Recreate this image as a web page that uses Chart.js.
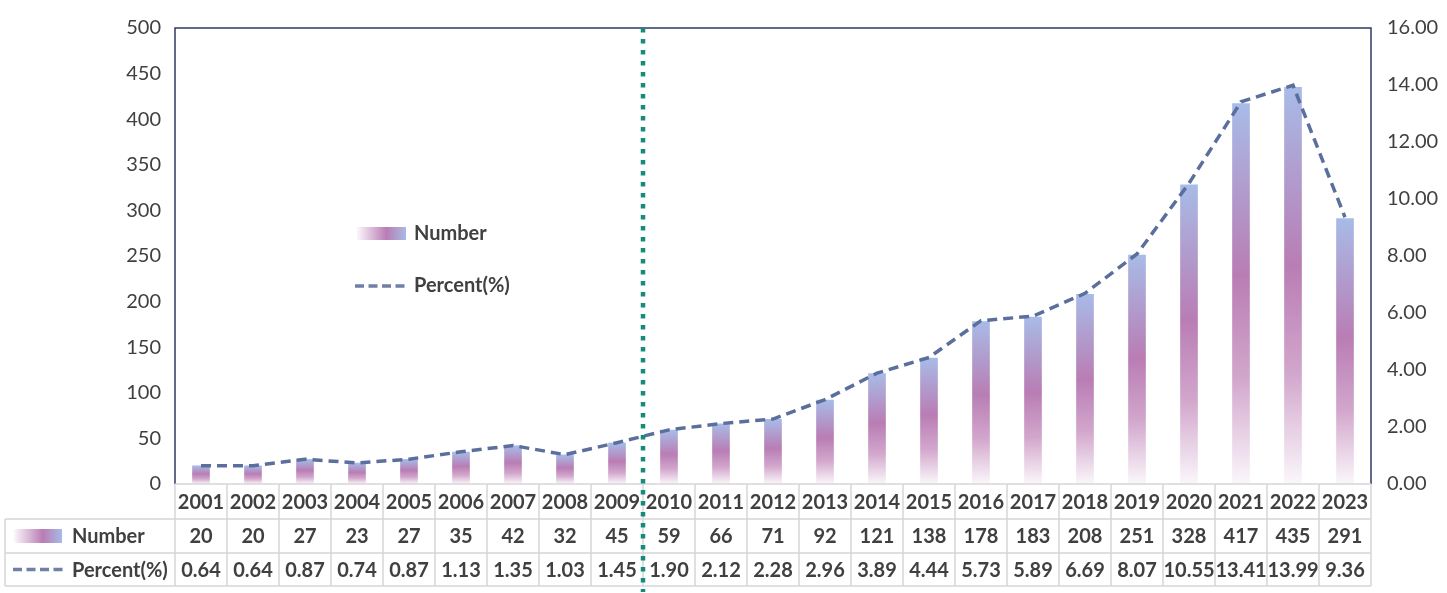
<!DOCTYPE html>
<html lang="en">

<head>
    <meta charset="UTF-8">
    <title>Number and Percent by year</title>
    <script src="https://cdn.jsdelivr.net/npm/chart.js"></script>
    <style>
        body {
            margin: 0;
            background: #fff;
        }
    </style>
</head>

<body>
    <canvas id="chart" width="1447" height="593"></canvas>
    <script>
        const years = ['2001', '2002', '2003', '2004', '2005', '2006', '2007', '2008', '2009', '2010', '2011', '2012',
            '2013', '2014', '2015', '2016', '2017', '2018', '2019', '2020', '2021', '2022', '2023'];
        const numbers = [20, 20, 27, 23, 27, 35, 42, 32, 45, 59, 66, 71, 92, 121, 138, 178, 183, 208, 251, 328, 417, 435, 291];
        const percents = [0.64, 0.64, 0.87, 0.74, 0.87, 1.13, 1.35, 1.03, 1.45, 1.90, 2.12, 2.28, 2.96, 3.89, 4.44, 5.73,
            5.89, 6.69, 8.07, 10.55, 13.41, 13.99, 9.36];
        const leftTicks = [0, 50, 100, 150, 200, 250, 300, 350, 400, 450, 500];
        const rightTicks = [0, 2, 4, 6, 8, 10, 12, 14, 16];
        const splitAfter = '2009'; // dotted marker goes after this year

        const FONT = 'Lato, "Open Sans", sans-serif';
        const TEXT = '#404040';
        const NAVY = '#2e3b63';
        const LINE = '#5b6f9e';

        function barGradient(context) {
            const chart = context.chart;
            if (!chart.chartArea) return '#b97db4';
            const y = chart.scales.y;
            const top = y.getPixelForValue(context.raw);
            const bottom = y.getPixelForValue(0);
            const g = chart.ctx.createLinearGradient(0, top, 0, bottom);
            g.addColorStop(0, '#a8bbe7');
            g.addColorStop(0.45, '#b97db4');
            g.addColorStop(0.72, '#d2a6cc');
            g.addColorStop(1, '#fbf7fb');
            return g;
        }

        const extras = {
            id: 'extras',
            afterDraw(chart) {
                const ctx = chart.ctx;
                const area = chart.chartArea;
                const xs = chart.scales.x;
                const colW = (area.right - area.left) / years.length;
                ctx.save();

                // frame: left, top, right
                ctx.strokeStyle = NAVY;
                ctx.lineWidth = 1.5;
                ctx.beginPath();
                ctx.moveTo(area.left, area.bottom);
                ctx.lineTo(area.left, area.top);
                ctx.lineTo(area.right, area.top);
                ctx.lineTo(area.right, area.bottom);
                ctx.stroke();

                // data table
                const r0 = area.bottom, r1 = r0 + 35, r2 = r1 + 34, r3 = r2 + 33;
                const tableLeft = 5;
                ctx.strokeStyle = '#d6d6d6';
                ctx.lineWidth = 1.5;
                ctx.beginPath();
                ctx.moveTo(area.left, r0); ctx.lineTo(area.right, r0);
                [r1, r2, r3].forEach(y => { ctx.moveTo(tableLeft, y); ctx.lineTo(area.right, y); });
                ctx.moveTo(tableLeft, r1); ctx.lineTo(tableLeft, r3);
                for (let i = 0; i <= years.length; i++) {
                    const x = area.left + i * colW;
                    ctx.moveTo(x, r0); ctx.lineTo(x, r3);
                }
                ctx.stroke();

                ctx.fillStyle = TEXT;
                ctx.font = 'bold 20px ' + FONT;
                ctx.textAlign = 'center';
                ctx.textBaseline = 'middle';
                years.forEach((yr, i) => {
                    const x = xs.getPixelForValue(i);
                    ctx.fillText(yr, x, (r0 + r1) / 2 + 1);
                    ctx.fillText(String(numbers[i]), x, (r1 + r2) / 2 + 1);
                    ctx.fillText(percents[i].toFixed(2), x, (r2 + r3) / 2 + 1);
                });

                // keys in the table
                drawBarKey(ctx, 14, (r1 + r2) / 2 - 7, 48, 14);
                drawLineKey(ctx, 13, 63, (r2 + r3) / 2);
                ctx.fillStyle = TEXT;
                ctx.textAlign = 'left';
                ctx.fillText('Number', 72, (r1 + r2) / 2 + 1);
                ctx.fillText('Percent(%)', 72, (r2 + r3) / 2 + 1);

                // legend inside plot
                drawBarKey(ctx, 357, 227, 49, 13);
                drawLineKey(ctx, 355, 407, 286);
                ctx.fillStyle = TEXT;
                ctx.fillText('Number', 414, 234);
                ctx.fillText('Percent(%)', 414, 286);

                // dotted split marker
                const idx = years.indexOf(splitAfter);
                const sx = (xs.getPixelForValue(idx) + xs.getPixelForValue(idx + 1)) / 2;
                ctx.strokeStyle = '#178a7a';
                ctx.lineWidth = 4.5;
                ctx.setLineDash([4.5, 6.5]);
                ctx.beginPath();
                ctx.moveTo(sx, area.top);
                ctx.lineTo(sx, 592);
                ctx.stroke();

                ctx.restore();
            }
        };

        function drawBarKey(ctx, x, y, w, h) {
            const g = ctx.createLinearGradient(x, 0, x + w, 0);
            g.addColorStop(0, '#fbf7fb');
            g.addColorStop(0.6, '#b97db4');
            g.addColorStop(1, '#a8bbe7');
            ctx.fillStyle = g;
            ctx.fillRect(x, y, w, h);
        }

        function drawLineKey(ctx, x0, x1, y) {
            ctx.save();
            ctx.strokeStyle = '#6f7fa6';
            ctx.lineWidth = 3.5;
            ctx.setLineDash([9, 4.5]);
            ctx.beginPath();
            ctx.moveTo(x0, y);
            ctx.lineTo(x1, y);
            ctx.stroke();
            ctx.restore();
        }

        const chart = new Chart(document.getElementById('chart'), {
            type: 'bar',
            data: {
                labels: years,
                datasets: [
                    {
                        type: 'line',
                        label: 'Percent(%)',
                        data: percents,
                        yAxisID: 'y1',
                        borderColor: LINE,
                        borderWidth: 3.5,
                        borderDash: [10, 6],
                        pointRadius: 0,
                        tension: 0,
                        fill: false,
                        order: 0
                    },
                    {
                        label: 'Number',
                        data: numbers,
                        yAxisID: 'y',
                        backgroundColor: barGradient,
                        barThickness: 17,
                        order: 1
                    }
                ]
            },
            options: {
                responsive: false,
                animation: false,
                layout: {
                    padding: { top: 18, bottom: 109, left: 0, right: 0 }
                },
                plugins: {
                    legend: { display: false },
                    tooltip: { enabled: false }
                },
                scales: {
                    x: {
                        display: false,
                        offset: true
                    },
                    y: {
                        position: 'left',
                        min: 0,
                        max: 500,
                        afterFit(scale) { scale.width = 175; },
                        afterBuildTicks(scale) { scale.ticks = leftTicks.map(v => ({ value: v })); },
                        grid: { display: false, drawTicks: false },
                        border: { display: false },
                        ticks: {
                            padding: 14,
                            color: TEXT,
                            font: { family: FONT, size: 20 }
                        }
                    },
                    y1: {
                        position: 'right',
                        min: 0,
                        max: 16,
                        afterFit(scale) { scale.width = 76; },
                        afterBuildTicks(scale) { scale.ticks = rightTicks.map(v => ({ value: v })); },
                        grid: { display: false, drawTicks: false },
                        border: { display: false },
                        ticks: {
                            padding: 16,
                            color: TEXT,
                            font: { family: FONT, size: 20 },
                            callback: v => Number(v).toFixed(2)
                        }
                    }
                }
            },
            plugins: [extras]
        });
    </script>
</body>

</html>
